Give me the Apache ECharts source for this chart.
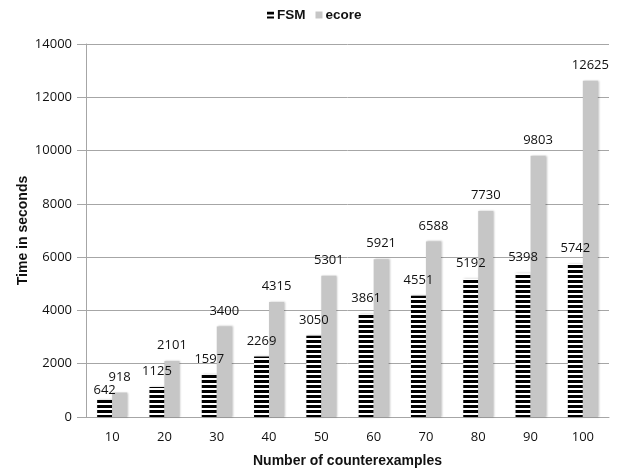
<!DOCTYPE html>
<html>
<head>
<meta charset="utf-8">
<script src="https://cdn.jsdelivr.net/npm/echarts@6/dist/echarts.min.js"></script>
<style>
html,body{margin:0;padding:0;background:#fff;}
#chart{width:618px;height:469px;}
</style>
</head>
<body>
<div id="chart"></div>
<script>
var categories = ['10','20','30','40','50','60','70','80','90','100'];
var fsmValues = [642,1125,1597,2269,3050,3861,4551,5192,5398,5742];
var ecoreValues = [918,2101,3400,4315,5301,5921,6588,7730,9803,12625];
var seriesNames = ['FSM','ecore'];

function stripePattern(){
  var c = document.createElement('canvas');
  c.width = 5; c.height = 5;
  var ctx = c.getContext('2d');
  ctx.fillStyle = '#ffffff'; ctx.fillRect(0,0,5,5);
  ctx.fillStyle = '#000000'; ctx.fillRect(0,0,5,3);
  return c;
}
var pattern = {image: stripePattern(), repeat: 'repeat'};

var labelFont = {fontFamily:'Open Sans', fontSize:13, color:'#111'};

var fsmData = fsmValues.map(function(v,i){
  var d = {value:v};
  if(i===0){ d.label = {distance:3}; }
  return d;
});

var chart = echarts.init(document.getElementById('chart'), null, {renderer:'canvas'});
chart.setOption({
  animation:false,
  backgroundColor:'#fff',
  legend:{
    top:3, left:262,
    itemWidth:7, itemHeight:7, itemGap:10,
    textStyle:{fontFamily:'Liberation Sans', fontWeight:'bold', fontSize:13.5, color:'#111', padding:[0,0,0,-2]},
    data:[{name:seriesNames[0], icon:'rect'},{name:seriesNames[1], icon:'rect'}]
  },
  grid:{left:86, right:9, top:44, bottom:52, outerBoundsMode:'none', containLabel:false},
  xAxis:{
    type:'category',
    data:categories,
    name:'Number of counterexamples',
    nameLocation:'middle',
    nameGap:37,
    nameTextStyle:{fontFamily:'Liberation Sans', fontWeight:'bold', fontSize:14, color:'#111'},
    axisLine:{lineStyle:{color:'#a6a6a6', width:1}},
    axisTick:{show:false},
    axisLabel:Object.assign({margin:14}, labelFont)
  },
  yAxis:{
    type:'value',
    min:0, max:14000, interval:2000,
    name:'Time in seconds',
    nameLocation:'middle',
    nameGap:56,
    nameMoveOverlap:false,
    nameTextStyle:{fontFamily:'Liberation Sans', fontWeight:'bold', fontSize:14, color:'#111'},
    axisLine:{show:true, lineStyle:{color:'#a6a6a6', width:1}},
    axisTick:{show:true, length:9, lineStyle:{color:'#a6a6a6'}},
    axisLabel:Object.assign({margin:14, formatter:function(v){return String(v);}}, labelFont),
    splitLine:{lineStyle:{color:'#a6a6a6', width:1}}
  },
  series:[
    {
      name:seriesNames[0], type:'bar', data:fsmData,
      barWidth:15, barGap:'0%',
      itemStyle:{color:pattern, shadowColor:'rgba(0,0,0,0.25)', shadowBlur:2, shadowOffsetX:1, shadowOffsetY:0},
      label:Object.assign({show:true, position:'top', distance:9}, labelFont)
    },
    {
      name:seriesNames[1], type:'bar', data:ecoreValues,
      barWidth:15, barGap:'0%',
      itemStyle:{color:'#c6c6c6', shadowColor:'rgba(0,0,0,0.25)', shadowBlur:2, shadowOffsetX:1, shadowOffsetY:0},
      label:Object.assign({show:true, position:'top', distance:9}, labelFont)
    }
  ]
});
</script>
</body>
</html>
